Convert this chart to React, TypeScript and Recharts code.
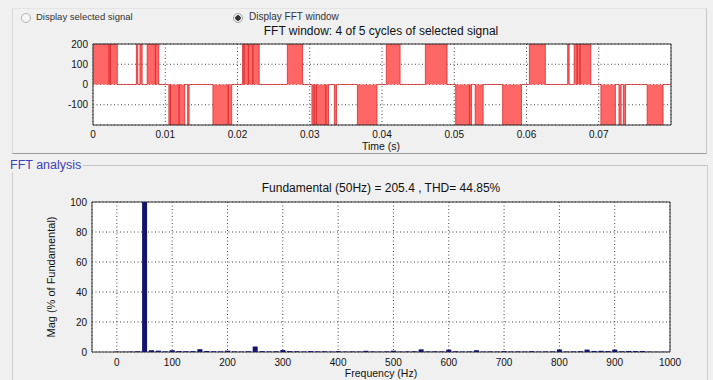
import React from 'react';
import { AreaChart, Area, BarChart, Bar, XAxis, YAxis, CartesianGrid, ReferenceArea } from 'recharts';

// ---------- top plot: FFT window of the PWM signal ----------
const timeTicks = [0, 0.01, 0.02, 0.03, 0.04, 0.05, 0.06, 0.07];
const timeTickLabels = ['0', '0.01', '0.02', '0.03', '0.04', '0.05', '0.06', '0.07'];
const voltTicks = [-100, 0, 100, 200];

const pulseStart = [
  0.0, 0.00224, 0.00244, 0.006, 0.0065, 0.0075, 0.00866,
  0.0105, 0.01074, 0.01194, 0.0131, 0.0166, 0.01874,
  0.0207, 0.02094, 0.02154, 0.02214, 0.0269,
  0.0303, 0.03064, 0.03094, 0.03224, 0.0334, 0.0366,
  0.0406, 0.046,
  0.0502, 0.05214, 0.0529, 0.0567,
  0.0604, 0.0657, 0.0666, 0.06704, 0.06744,
  0.0703, 0.0728, 0.0734, 0.0767,
];
const pulseEnd = [
  0.0022, 0.0024, 0.00336, 0.0062, 0.0068, 0.00862, 0.0091,
  0.0107, 0.0119, 0.0127, 0.0133, 0.0187, 0.0192,
  0.0209, 0.0215, 0.0221, 0.023, 0.029,
  0.0306, 0.0309, 0.0322, 0.0326, 0.0337, 0.0393,
  0.0425, 0.049,
  0.0521, 0.0524, 0.054, 0.0593,
  0.0626, 0.0659, 0.067, 0.0674, 0.0689,
  0.0723, 0.0731, 0.0737, 0.0789,
];
const pulseLevel = [
  200, 200, 200, 200, 200, 200, 200,
  -200, -200, -200, -200, -200, -200,
  200, 200, 200, 200, 200,
  -200, -200, -200, -200, -200, -200,
  200, 200,
  -200, -200, -200, -200,
  200, 200, 200, 200, 200,
  -200, -200, -200, -200,
];

// ---------- bottom plot: FFT spectrum ----------
const freqBins = [
  0, 12.5, 25, 37.5, 50, 62.5, 75, 87.5, 100, 112.5, 125, 137.5, 150, 162.5, 175, 187.5,
  200, 212.5, 225, 237.5, 250, 262.5, 275, 287.5, 300, 312.5, 325, 337.5, 350, 362.5, 375, 387.5,
  400, 412.5, 425, 437.5, 450, 462.5, 475, 487.5, 500, 512.5, 525, 537.5, 550, 562.5, 575, 587.5,
  600, 612.5, 625, 637.5, 650, 662.5, 675, 687.5, 700, 712.5, 725, 737.5, 750, 762.5, 775, 787.5,
  800, 812.5, 825, 837.5, 850, 862.5, 875, 887.5, 900, 912.5, 925, 937.5, 950, 962.5, 975, 987.5, 1000,
];
const magPercent = [
  0.3, 0.2, 0.3, 0.5, 100, 1.2, 0.9, 0.4, 1.2, 0.6, 0.5, 0.6, 1.9, 0.7, 0.5, 0.4,
  0.9, 0.4, 0.3, 0.5, 3.6, 0.6, 0.4, 0.5, 1.3, 0.6, 0.5, 0.3, 0.6, 0.4, 0.5, 0.3,
  0.6, 0.3, 0.4, 0.3, 0.8, 0.4, 0.3, 0.4, 0.9, 0.3, 0.4, 0.5, 1.8, 0.4, 0.5, 0.4,
  1.6, 0.5, 0.3, 0.4, 1.2, 0.3, 0.4, 0.3, 0.6, 0.3, 0.4, 0.3, 0.6, 0.3, 0.4, 0.4,
  1.7, 0.3, 0.4, 0.5, 1.6, 0.7, 0.8, 0.6, 1.6, 0.5, 0.7, 0.6, 0.7, 0.3, 0.2, 0.2, 0.2,
];
const freqTicks = [0, 100, 200, 300, 400, 500, 600, 700, 800, 900, 1000];
const magTicks = [0, 20, 40, 60, 80, 100];

const radioLabels = ['Display selected signal', 'Display FFT window'];
const windowTitle = 'FFT window: 4 of 5 cycles of selected signal';
const fftTitle = 'Fundamental (50Hz) = 205.4 , THD= 44.85%';
const panelTitle = 'FFT analysis';
const timeLabel = 'Time (s)';
const freqLabel = 'Frequency (Hz)';
const magLabel = 'Mag (% of Fundamental)';

const waveData: { t: number; v: number }[] = [];
pulseStart.forEach((s, i) => {
  waveData.push({ t: s, v: pulseLevel[i] });
  waveData.push({ t: pulseEnd[i], v: 0 });
});
waveData.push({ t: 0.08, v: 0 });

const fftData = freqBins.map((f, i) => ({ f, m: magPercent[i] }));

const FONT = '"Liberation Sans", Arial, sans-serif';
const tickStyle = { fontSize: 10, fill: '#111', fontFamily: FONT };

const textAbs = (left: number, top: number, extra: React.CSSProperties = {}): React.CSSProperties => ({
  position: 'absolute',
  left,
  top,
  whiteSpace: 'nowrap',
  fontFamily: FONT,
  lineHeight: 1,
  ...extra,
});

export default function App() {
  return (
    <div
      style={{
        position: 'fixed',
        left: 0,
        top: 0,
        width: 713,
        height: 380,
        background: '#f0f0f0',
        overflow: 'hidden',
        fontFamily: FONT,
      }}
    >
      {/* top panel frame */}
      <div
        style={{
          position: 'absolute',
          left: 12,
          top: 8,
          width: 693,
          height: 144,
          borderLeft: '1px solid #d8d8d8',
          borderTop: '1px solid #e4e4e4',
          borderRight: '1px solid #c8c8c8',
          borderBottom: '1px solid #9a9a9a',
        }}
      />
      {/* bottom panel frame */}
      <div
        style={{
          position: 'absolute',
          left: 12,
          top: 165,
          width: 694,
          height: 230,
          borderLeft: '1px solid #cfcfcf',
          borderTop: '1px solid #c4c4c4',
          borderRight: '1px solid #cfcfcf',
        }}
      />
      <div style={textAbs(10, 159, { fontSize: 12.5, color: '#4040b8', background: '#f0f0f0', paddingRight: 2 })}>
        {panelTitle}
      </div>

      {/* radio buttons */}
      <div
        style={{
          position: 'absolute',
          left: 21,
          top: 13,
          width: 8,
          height: 8,
          borderRadius: '50%',
          border: '1px solid #b0b0b0',
          background: '#f8f8f8',
        }}
      />
      <div style={textAbs(36, 12, { fontSize: 9.5, color: '#333' })}>{radioLabels[0]}</div>
      <div
        style={{
          position: 'absolute',
          left: 233,
          top: 13,
          width: 8,
          height: 8,
          borderRadius: '50%',
          border: '1px solid #a0a0a0',
          background: 'radial-gradient(circle, #333 0 2.5px, #f4f4f4 3px)',
        }}
      />
      <div style={textAbs(249, 12, { fontSize: 10, color: '#333' })}>{radioLabels[1]}</div>

      {/* titles and axis labels */}
      <div style={textAbs(381, 25, { fontSize: 12, color: '#111', transform: 'translateX(-50%)' })}>{windowTitle}</div>
      <div style={textAbs(381, 141, { fontSize: 10.5, color: '#111', transform: 'translateX(-50%)' })}>{timeLabel}</div>
      <div style={textAbs(381, 182, { fontSize: 12, color: '#111', transform: 'translateX(-50%)' })}>{fftTitle}</div>
      <div style={textAbs(381, 368, { fontSize: 10.5, color: '#111', transform: 'translateX(-50%)' })}>{freqLabel}</div>
      <div
        style={textAbs(51, 277, {
          fontSize: 11,
          color: '#111',
          transform: 'translate(-50%, -50%) rotate(-90deg)',
        })}
      >
        {magLabel}
      </div>

      {/* top chart */}
      <div style={{ position: 'absolute', left: 0, top: 0 }}>
        <AreaChart
          width={713}
          height={160}
          data={waveData}
          margin={{ top: 44, right: 42, bottom: 5, left: 63 }}
        >
          <CartesianGrid stroke="#444" strokeDasharray="1 2.5" fill="#ffffff" />
          <XAxis
            dataKey="t"
            type="number"
            domain={[0, 0.08]}
            ticks={timeTicks}
            tickFormatter={(v: number) => timeTickLabels[timeTicks.indexOf(v)] ?? ''}
            allowDataOverflow
            axisLine={false}
            tickLine={false}
            tickSize={4}
            tickMargin={2}
            height={30}
            tick={tickStyle}
            interval={0}
          />
          <YAxis
            type="number"
            domain={[-200, 200]}
            ticks={voltTicks}
            allowDataOverflow
            axisLine={false}
            tickLine={false}
            tickSize={3}
            tickMargin={2}
            width={30}
            tick={tickStyle}
            interval={0}
          />
          <Area
            dataKey="v"
            type="stepAfter"
            stroke="#dc2a2a"
            strokeWidth={0.8}
            fill="#ff6666"
            fillOpacity={1}
            isAnimationActive={false}
            dot={false}
            activeDot={false}
          />
          <ReferenceArea x1={0} x2={0.08} y1={-200} y2={200} fill="none" stroke="#333" strokeWidth={1} />
        </AreaChart>
      </div>

      {/* bottom chart */}
      <div style={{ position: 'absolute', left: 0, top: 150 }}>
        <BarChart
          width={713}
          height={230}
          data={fftData}
          margin={{ top: 52, right: 43, bottom: 4, left: 62 }}
        >
          <CartesianGrid stroke="#444" strokeDasharray="1 2.5" fill="#ffffff" />
          <XAxis
            dataKey="f"
            type="number"
            domain={[-45, 1000]}
            ticks={freqTicks}
            allowDataOverflow
            axisLine={false}
            tickLine={false}
            tickSize={5}
            tickMargin={2}
            height={24}
            tick={tickStyle}
            interval={0}
          />
          <YAxis
            type="number"
            domain={[0, 100]}
            ticks={magTicks}
            allowDataOverflow
            axisLine={false}
            tickLine={false}
            tickSize={3}
            tickMargin={2}
            width={30}
            tick={tickStyle}
            interval={0}
          />
          <Bar dataKey="m" fill="#14146c" barSize={5} isAnimationActive={false} />
          <ReferenceArea x1={-45} x2={1000} y1={0} y2={100} fill="none" stroke="#333" strokeWidth={1} />
        </BarChart>
      </div>
    </div>
  );
}
